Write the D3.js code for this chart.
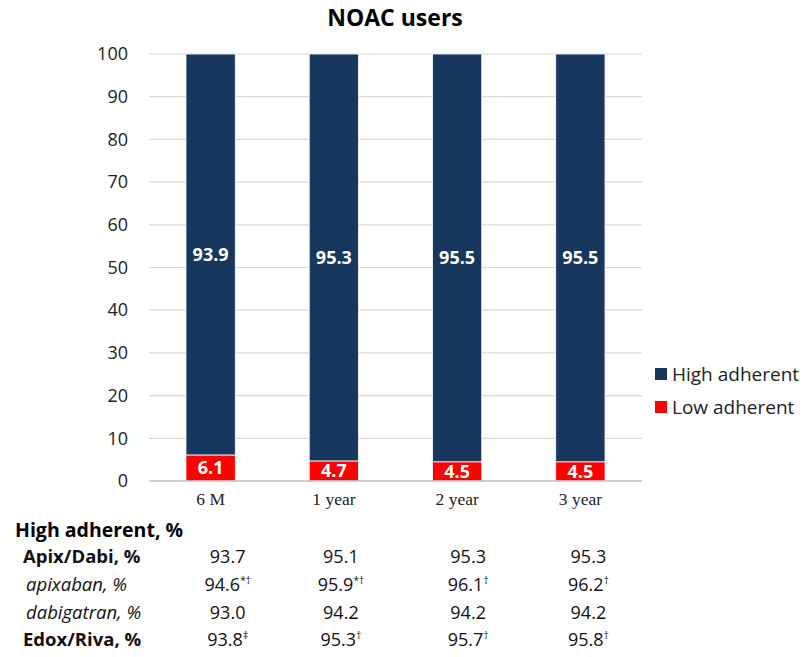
<!DOCTYPE html>
<html>
<head>
<meta charset="utf-8">
<script src="https://cdn.jsdelivr.net/npm/d3@7"></script>
<style>
  html, body { margin: 0; padding: 0; background: #fff; }
  svg { display: block; }
</style>
</head>
<body>
<svg id="chart" width="809" height="657"></svg>
<script>
// ---- data ----
const categories = ["6 M", "1 year", "2 year", "3 year"];
const highAdherent = [93.9, 95.3, 95.5, 95.5];
const lowAdherent = [6.1, 4.7, 4.5, 4.5];
const seriesNames = ["High adherent", "Low adherent"];
const yTicks = [0, 10, 20, 30, 40, 50, 60, 70, 80, 90, 100];

const tableHeader = "High adherent, %";
const tableRowLabels = ["Apix/Dabi, %", "apixaban, %", "dabigatran, %", "Edox/Riva, %"];
const tableRowStyles = ["bold", "italic", "italic", "bold"];
const apixDabi = ["93.7", "95.1", "95.3", "95.3"];
const apixDabiMarks = ["", "", "", ""];
const apixaban = ["94.6", "95.9", "96.1", "96.2"];
const apixabanMarks = ["*†", "*†", "†", "†"];
const dabigatran = ["93.0", "94.2", "94.2", "94.2"];
const dabigatranMarks = ["", "", "", ""];
const edoxRiva = ["93.8", "95.3", "95.7", "95.8"];
const edoxRivaMarks = ["‡", "†", "†", "†"];

// ---- layout ----
const svg = d3.select("#chart");
const font = "'Open Sans', 'Noto Sans', sans-serif";
const colors = { "High adherent": "#17375E", "Low adherent": "#FF0000" };
const plot = { left: 149, right: 642, top: 54, bottom: 481 };

const x = d3.scaleBand().domain(categories).range([plot.left, plot.right]).paddingInner(0.6).paddingOuter(0.3);
const y = d3.scaleLinear().domain([0, 100]).range([plot.bottom, plot.top]);

// title
svg.append("text")
  .attr("x", 395).attr("y", 26)
  .attr("text-anchor", "middle")
  .attr("font-family", font).attr("font-weight", "bold").attr("font-size", 23)
  .attr("fill", "#000")
  .text("NOAC users");

// gridlines
svg.append("g").selectAll("line").data(yTicks.filter(t => t > 0)).join("line")
  .attr("x1", plot.left).attr("x2", plot.right)
  .attr("y1", d => y(d)).attr("y2", d => y(d))
  .attr("stroke", "#d9d9d9").attr("stroke-width", 1.2);

// y axis labels
const yAxis = d3.axisLeft(y).tickValues(yTicks).tickSize(0).tickPadding(21);
const yg = svg.append("g").attr("transform", `translate(${plot.left},0)`).call(yAxis);
yg.select(".domain").remove();
yg.selectAll("text").attr("font-family", font).attr("font-size", 18).attr("fill", "#222");

// stacked bars
const rows = categories.map((c, i) => ({ cat: c, "High adherent": highAdherent[i], "Low adherent": lowAdherent[i] }));
const stack = d3.stack().keys(["Low adherent", "High adherent"])(rows);

const layers = svg.append("g").selectAll("g").data(stack).join("g")
  .attr("fill", d => colors[d.key]);
layers.selectAll("rect").data(d => d).join("rect")
  .attr("x", d => x(d.data.cat))
  .attr("width", x.bandwidth())
  .attr("y", d => y(d[1]))
  .attr("height", d => y(d[0]) - y(d[1]))
  .attr("stroke", "#fff").attr("stroke-width", 0.8);

// value labels inside segments
layers.selectAll("text").data(d => d.map(v => ({ v, key: d.key }))).join("text")
  .attr("x", d => x(d.v.data.cat) + x.bandwidth() / 2)
  .attr("y", d => y((d.v[0] + d.v[1]) / 2))
  .attr("dy", "0.36em")
  .attr("text-anchor", "middle")
  .attr("font-family", font).attr("font-weight", "bold").attr("font-size", 18)
  .attr("fill", "#fff")
  .text(d => d.v.data[d.key].toFixed(1));

// baseline
svg.append("line")
  .attr("x1", plot.left).attr("x2", plot.right)
  .attr("y1", y(0)).attr("y2", y(0))
  .attr("stroke", "#bfbfbf").attr("stroke-width", 1.3);

// x axis labels
const xAxis = d3.axisBottom(x).tickSize(0).tickPadding(12);
const xg = svg.append("g").attr("transform", `translate(0,${plot.bottom})`).call(xAxis);
xg.select(".domain").remove();
xg.selectAll("text").attr("font-family", "'Liberation Serif', 'DejaVu Serif', serif").attr("font-size", 17.5).attr("fill", "#222");

// legend
const legend = svg.append("g").attr("transform", "translate(655,368)");
seriesNames.forEach((name, i) => {
  const g = legend.append("g").attr("transform", `translate(0,${i * 33})`);
  g.append("rect").attr("width", 12).attr("height", 12).attr("fill", colors[name]);
  g.append("text").attr("x", 17).attr("y", 6).attr("dy", "0.36em")
    .attr("font-family", font).attr("font-size", 19).attr("fill", "#222")
    .text(name);
});

// table below the chart
const table = svg.append("g");
table.append("text")
  .attr("x", 15).attr("y", 537)
  .attr("font-family", font).attr("font-weight", "bold").attr("font-size", 19.5).attr("fill", "#000")
  .text(tableHeader);

const tableValues = [apixDabi, apixaban, dabigatran, edoxRiva];
const tableMarks = [apixDabiMarks, apixabanMarks, dabigatranMarks, edoxRivaMarks];
const colOffset = [17, 7, 11, 8];
const rowY = [563, 591, 619, 646];

tableRowLabels.forEach((label, r) => {
  table.append("text")
    .attr("x", r === 0 || r === 3 ? 23 : 26).attr("y", rowY[r])
    .attr("font-family", font)
    .attr("font-weight", tableRowStyles[r] === "bold" ? "bold" : "normal")
    .attr("font-style", tableRowStyles[r] === "italic" ? "italic" : "normal")
    .attr("font-size", 18.5).attr("fill", "#111")
    .text(label);

  categories.forEach((c, i) => {
    const t = table.append("text")
      .attr("x", x(c) + x.bandwidth() / 2 + colOffset[i]).attr("y", rowY[r])
      .attr("text-anchor", "middle")
      .attr("font-family", font).attr("font-size", 18).attr("fill", "#111");
    t.append("tspan").text(tableValues[r][i]);
    if (tableMarks[r][i]) {
      t.append("tspan").attr("font-size", 10).attr("dy", -7).text(tableMarks[r][i]);
    }
  });
});
</script>
</body>
</html>
